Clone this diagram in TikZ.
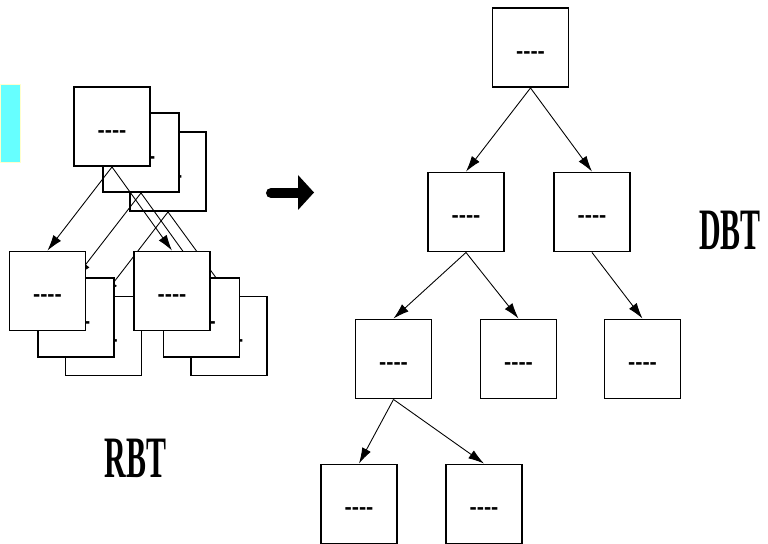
\documentclass[tikz,border=0pt]{standalone}
\usepackage{fontspec}
\usepackage{graphicx}
\newfontfamily\dashfont{Liberation Sans}
\newfontfamily\titlefont{Liberation Serif}
\usetikzlibrary{arrows.meta}
\newcommand{\blank}{-\kern0pt-\kern0pt-\kern0pt-}
\newcommand{\tname}[1]{\scalebox{0.51}[1]{#1}}
\definecolor{cyanpad}{RGB}{102,255,255}
\definecolor{padrim}{RGB}{255,255,204}
\begin{document}
\begin{tikzpicture}[x=0.02cm, y=-0.02cm,
	every node/.style={draw, rectangle, line width=1.1pt, fill=white, inner sep=0pt,
		minimum width=1.52cm, minimum height=1.58cm,
		font=\dashfont\bfseries\fontsize{12.3}{14}\selectfont, text height=12.4pt, text depth=0pt},
	every edge/.style={draw, line width=0.5pt, -{Latex[length=9pt,width=5.5pt]}},
	title/.style={draw=none, fill=none, minimum width=0pt, minimum height=0pt, text height=, text depth=,
		font=\titlefont\bfseries\fontsize{33.4}{36}\selectfont}]
	
	\useasboundingbox (0,0) rectangle (768,544);
	\clip (0,0) rectangle (768,544);
	
	\filldraw[fill=cyanpad, draw=padrim, line width=0.5pt] (0,84) rectangle (20.5,162);
	
	% RBT, back layer
	\node (1) at (168,171.5) {\blank};
	\node (2) at (103.5,336) {\blank};
	\node (3) at (229,336) {\blank};
	\path (1.south) edge (2.north);
	\path (1.south) edge (3.north);
	
	% RBT, middle layer
	\node (4) at (141,152.5) {\blank};
	\node (5) at (76,317.5) {\blank};
	\node (6) at (201.5,317.5) {\blank};
	\path (4.south) edge (5.north);
	\path (4.south) edge (6.north);
	
	% RBT, front layer
	\node (7) at (112,126.5) {\blank};
	\node (8) at (47.5,291) {\blank};
	\node (9) at (172,291) {\blank};
	\path (7.south) edge (8.north);
	\path (7.south) edge (9.north);
	
	\node[title] (rbt) at (135.5,458.5) {\tname{RBT}};
	
	\draw[line width=5.7pt, line cap=round] (271,193) -- (300,193);
	\fill (298,175) -- (314,192.5) -- (298,210) -- cycle;
	
	% DBT
	\node (10) at (530.5,47.5) {\blank};
	\node (11) at (466,212) {\blank};
	\node (12) at (592,212) {\blank};
	\node (13) at (393.5,359) {\blank};
	\node (14) at (518.5,359) {\blank};
	\node (15) at (642.5,359) {\blank};
	\node (16) at (359,504) {\blank};
	\node (17) at (484,504) {\blank};
	
	\path (10.south) edge (11.north);
	\path (10.south) edge (12.north);
	\path (11.south) edge (13.north);
	\path (11.south) edge (14.north);
	\path (12.south) edge (15.north);
	\path (13.south) edge (16.north);
	\path (13.south) edge (17.north);
	
	\node[title] (dbt) at (730,230.5) {\tname{DBT}};
	
\end{tikzpicture}
\end{document}
